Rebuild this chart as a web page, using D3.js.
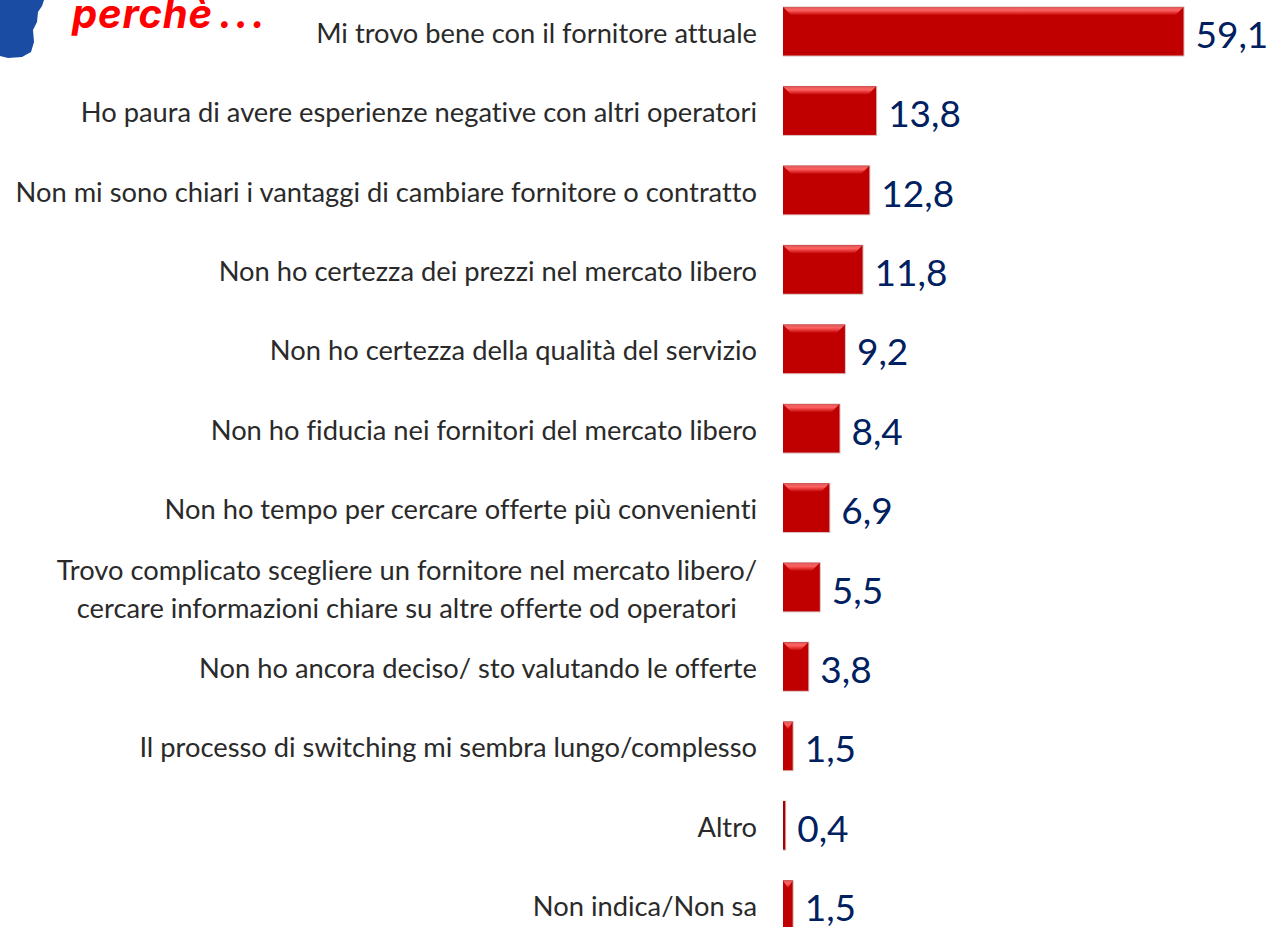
<!DOCTYPE html>
<html><head><meta charset="utf-8">
<script src="https://cdn.jsdelivr.net/npm/d3@7/dist/d3.min.js"></script>
<style>html,body{margin:0;padding:0;background:#fff;overflow:hidden}svg{display:block}text{font-variant-ligatures:none}</style>
</head><body><svg id="c" width="1272" height="927"></svg>
<script>
const categories = [
 ["Mi trovo bene con il fornitore attuale"],
 ["Ho paura di avere esperienze negative con altri operatori"],
 ["Non mi sono chiari i vantaggi di cambiare fornitore o contratto"],
 ["Non ho certezza dei prezzi nel mercato libero"],
 ["Non ho certezza della qualità del servizio"],
 ["Non ho fiducia nei fornitori del mercato libero"],
 ["Non ho tempo per cercare offerte più convenienti"],
 ["Trovo complicato scegliere un fornitore nel mercato libero/","cercare informazioni chiare su altre offerte od operatori"],
 ["Non ho ancora deciso/ sto valutando le offerte"],
 ["Il processo di switching mi sembra lungo/complesso"],
 ["Altro"],
 ["Non indica/Non sa"]
];
const values = [59.1,13.8,12.8,11.8,9.2,8.4,6.9,5.5,3.8,1.5,0.4,1.5];
const valueLabels = ["59,1","13,8","12,8","11,8","9,2","8,4","6,9","5,5","3,8","1,5","0,4","1,5"];
const titleText = "perchè";
const titleDots = "...";

const svg = d3.select("#c");
const x = d3.scaleLinear().domain([0,59.1]).range([783,1184]);
const y = d3.scaleBand().domain(d3.range(values.length)).range([7,929]).paddingInner(0.389).paddingOuter(0);

const defs = svg.append("defs");
const g1 = defs.append("linearGradient").attr("id","hl").attr("x1",0).attr("x2",0).attr("y1",0).attr("y2",1);
g1.append("stop").attr("offset",0).attr("stop-color","#d85a5a");
g1.append("stop").attr("offset",.4).attr("stop-color","#ff6262");
g1.append("stop").attr("offset",1).attr("stop-color","#c80808");

// blue shape, top left
svg.append("path").attr("fill","#1a4ca3")
 .attr("d","M0 0 L44 0 L42 6 L38 12 L37 22 L33 30 L34 42 L31 52 L22 57 L8 58 L0 56 Z");

const title = svg.append("text").attr("x",72).attr("y",28)
 .attr("font-family","Inter, sans-serif").attr("font-weight",700).attr("font-style","italic")
 .attr("font-size",40).attr("letter-spacing",0.8).attr("fill","#ff0000");
title.append("tspan").text(titleText);
title.append("tspan").attr("dx",6).attr("letter-spacing",3).text(titleDots);

const row = svg.selectAll("g.row").data(values).join("g").attr("class","row");
row.each(function(v,i){
  const g = d3.select(this), x0=x(0), w=x(v)-x0, t=y(i), h=y.bandwidth();
  const bevel = Math.min(8,w/2);
  g.append("rect").attr("x",x0).attr("y",t-0.5).attr("width",w+0.5).attr("height",h+1.5).attr("fill","#d8bcbc");
  g.append("rect").attr("x",x0).attr("y",t).attr("width",w-0.5).attr("height",h).attr("fill",w>3?"#c00000":"#a80000");
  if(w>3){
    g.append("path").attr("fill","url(#hl)")
     .attr("d",`M${x0} ${t} H${x0+w-0.5} L${x0+w-0.5-bevel} ${t+8} H${x0+bevel} Z`);
  }
  g.append("text").attr("class","val").attr("x",x(v)+11.5).attr("y",t+h/2+16.5).text(valueLabels[i])
   .attr("font-family","Lato, sans-serif").attr("font-size",37).attr("fill","#002060");
  const lines = categories[i];
  const cy = t+h/2;
  const first = g.append("text").attr("x",757).attr("y",lines.length>1? cy-16+9 : cy+11.5).attr("text-anchor","end")
    .text(lines[0]).attr("font-family","Lato, sans-serif").attr("font-size",27.3).attr("fill","#2a2a2a");
  if(lines.length>1){
    const len = first.node().getComputedTextLength();
    g.append("text").attr("x",757-len/2).attr("y",cy+22+9).attr("text-anchor","middle")
     .text(lines[1]).attr("font-family","Lato, sans-serif").attr("font-size",27.3).attr("fill","#2a2a2a");
  }
});
</script></body></html>
